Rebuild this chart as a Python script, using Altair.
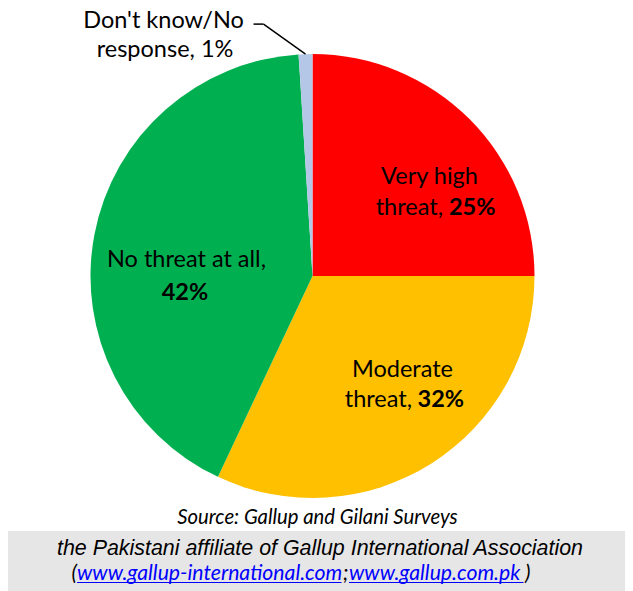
import altair as alt
import pandas as pd

# ---- data ----
categories = ["Very high threat", "Moderate threat", "No threat at all", "Don't know/No response"]
values = [25, 32, 42, 1]
colors = ["#FF0000", "#FFC000", "#00B050", "#B4C7E7"]
label_line1 = ["Very high", "Moderate", "No threat at all,", "Don't know/No"]
label_line2 = ["threat,", "threat,", "", "response, 1%"]
label_pct = ["25%", "32%", "42%", ""]

source_text = "Source: Gallup and Gilani Surveys"
footer_line1 = "the Pakistani affiliate of Gallup International Association"
link1 = "www.gallup-international.com"
link2 = "www.gallup.com.pk"

df = pd.DataFrame({
    "category": categories,
    "value": values,
    "idx": list(range(len(categories))),
    "line1": label_line1,
    "line2": label_line2,
    "pct": label_pct,
})

W, H = 617, 583
CX, CY, R = 304.5, 268, 222
FONT = "Lato"
FS = 23.5

base = alt.Chart(df).encode(
    theta=alt.Theta("value:Q", stack=True),
    order=alt.Order("idx:Q"),
)

pie = base.mark_arc(outerRadius=R).encode(
    color=alt.Color("category:N", scale=alt.Scale(domain=categories, range=colors), legend=None),
    x=alt.value(CX),
    y=alt.value(CY),
)


def piece(i, field, r, dx, dy, align, bold=False, size=FS):
    return base.transform_calculate(
        t=f"datum.idx === {i} ? datum.{field} : ''"
    ).mark_text(
        radius=r, dx=dx, dy=dy, align=align, baseline="alphabetic",
        font=FONT, fontSize=size, fontWeight="bold" if bold else "normal", color="black",
    ).encode(text="t:N", x=alt.value(CX), y=alt.value(CY))


labels = [
    piece(0, "line1", 140, 18, 7, "center"),
    piece(0, "line2", 140, 31.5, 38, "right"),
    piece(0, "pct", 140, 37.5, 38, "left", bold=True),
    piece(1, "line1", 140, 15, -17.2, "center"),
    piece(1, "line2", 140, 24.5, 12.8, "right"),
    piece(1, "pct", 140, 30, 12.8, "left", bold=True),
    piece(2, "line1", 140, 11.5, 17.4, "center"),
    piece(2, "pct", 140, 10, 50.2, "center", bold=True),
    piece(3, "line1", R, -142, -26.5, "center"),
    piece(3, "line2", R, -140.5, 2.5, "center"),
]

leader_base = alt.Chart(df).transform_window(
    cum="sum(value)", sort=[alt.SortField("idx")], frame=[None, 0]
).transform_joinaggregate(
    total="sum(value)"
).transform_calculate(
    ang="(datum.cum - datum.value / 2) / datum.total * 2 * PI"
).transform_calculate(
    px=f"{CX} + {R} * sin(datum.ang)",
    py=f"{CY} - {R} * cos(datum.ang)",
).transform_calculate(
    ex="datum.px - 42", ey="datum.py - 30", hx="datum.px - 52"
).transform_filter("datum.idx === 3")

leader1 = leader_base.mark_rule(color="black", strokeWidth=1.5).encode(
    x=alt.X("px:Q", scale=None, axis=None), y=alt.Y("py:Q", scale=None, axis=None),
    x2="ex:Q", y2="ey:Q",
)
leader2 = leader_base.mark_rule(color="black", strokeWidth=1.5).encode(
    x=alt.X("ex:Q", scale=None, axis=None), y=alt.Y("ey:Q", scale=None, axis=None),
    x2="hx:Q", y2="ey:Q",
)

foot = alt.Chart(pd.DataFrame({"src": [source_text], "l1": [footer_line1], "a": [link1], "b": [link2]}))

grey = foot.mark_rect(color="#E7E6E6").encode(
    x=alt.value(0), x2=alt.value(W), y=alt.value(523), y2=alt.value(H)
)
src = foot.mark_text(font=FONT, fontSize=20.3, fontStyle="italic", align="center", baseline="alphabetic", color="black").encode(
    text="src:N", x=alt.value(309.5), y=alt.value(516)
)
fl1 = foot.mark_text(font="Liberation Sans", fontSize=21.4, fontStyle="italic", align="center", baseline="alphabetic", color="black").encode(
    text="l1:N", x=alt.value(312), y=alt.value(546.5)
)
LB = 572
LFS = 21.2
paren_l = foot.mark_text(font=FONT, fontSize=LFS, fontStyle="italic", align="right", baseline="alphabetic", color="black").encode(
    text=alt.value("("), x=alt.value(69), y=alt.value(LB)
)
la = foot.mark_text(font=FONT, fontSize=LFS, fontStyle="italic", align="left", baseline="alphabetic", color="#0000FF").encode(
    text="a:N", x=alt.value(69), y=alt.value(LB)
)
semi = foot.mark_text(font=FONT, fontSize=LFS, fontStyle="italic", align="left", baseline="alphabetic", color="black").encode(
    text=alt.value(";"), x=alt.value(335), y=alt.value(LB)
)
lb = foot.mark_text(font=FONT, fontSize=LFS, fontStyle="italic", align="left", baseline="alphabetic", color="#0000FF").encode(
    text="b:N", x=alt.value(341), y=alt.value(LB)
)
paren_r = foot.mark_text(font=FONT, fontSize=LFS, fontStyle="italic", align="left", baseline="alphabetic", color="black").encode(
    text=alt.value(")"), x=alt.value(517), y=alt.value(LB)
)
ul_a = foot.mark_rule(color="#0000FF", strokeWidth=1).encode(
    x=alt.value(69), x2=alt.value(333.5), y=alt.value(LB + 2.5)
)
ul_b = foot.mark_rule(color="#0000FF", strokeWidth=1).encode(
    x=alt.value(341), x2=alt.value(515.5), y=alt.value(LB + 2.5)
)

chart = alt.layer(
    pie, *labels, leader1, leader2, grey, src, fl1, paren_l, la, semi, lb, paren_r, ul_a, ul_b
).properties(
    width=W, height=H, autosize=alt.AutoSizeParams(type="none"), padding=0, background="white"
).configure_view(stroke=None)

chart.save("out.html", embed_options={"renderer": "svg", "actions": False})
